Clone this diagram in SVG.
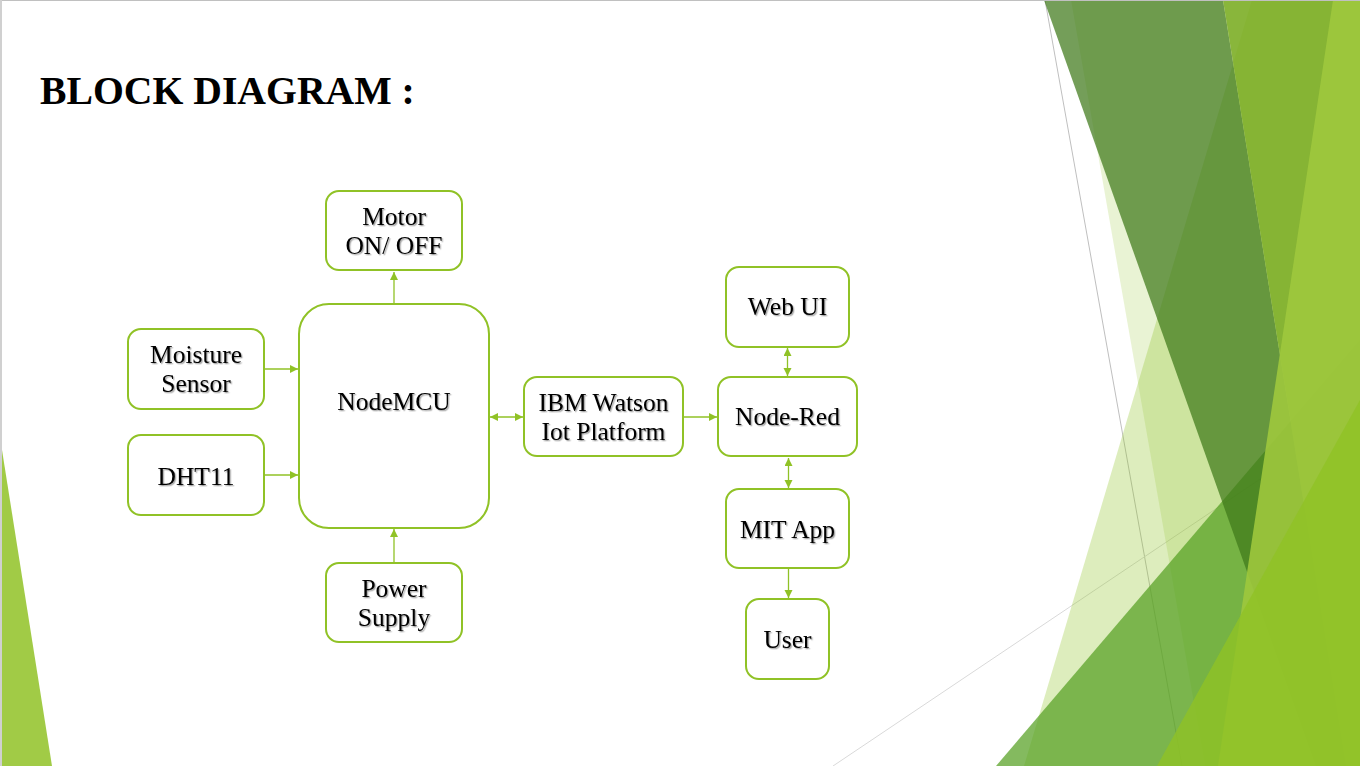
<svg xmlns="http://www.w3.org/2000/svg" width="1360" height="766" viewBox="0 0 1360 766">
<defs>
<style>
.box{fill:#ffffff;stroke:#90C226;stroke-width:2}
.lbl{font-family:"Liberation Serif","Times New Roman",serif;font-size:25.5px;fill:#000000;text-anchor:middle;filter:url(#sh)}
.conn{stroke:#90C226;stroke-width:1.3;fill:none}
.uni{marker-end:url(#ah)}
.bi{marker-start:url(#ah);marker-end:url(#ah)}
</style>
<marker id="ah" markerUnits="userSpaceOnUse" markerWidth="9" markerHeight="9" refX="8" refY="4" orient="auto-start-reverse"><path d="M0,0 L8,4 L0,8 Z" fill="#90C226"/></marker>
<filter id="sh" x="-10%" y="-30%" width="130%" height="160%"><feDropShadow dx="1.3" dy="1.3" stdDeviation="0.7" flood-color="#000000" flood-opacity="0.35"/></filter>
</defs>
<g id="background">
<rect x="0" y="0" width="1360" height="766" fill="#ffffff"/>
<line x1="1045" y1="0" x2="1182" y2="766" stroke="#bfbfbf" stroke-width="1"/>
<line x1="833" y1="766" x2="1360" y2="412" stroke="#d9d9d9" stroke-width="1"/>
<polygon points="1252,0 1360,0 1360,766 1024,766" fill="#90C226" fill-opacity="0.3"/>
<polygon points="1071,0 1360,0 1360,766 1205,766" fill="#90C226" fill-opacity="0.2"/>
<polygon points="996,766 1360,340 1360,766" fill="#54A021" fill-opacity="0.72"/>
<polygon points="1044,0 1223,0 1346,766 1316,766" fill="#3F7819" fill-opacity="0.72"/>
<polygon points="1223,0 1360,0 1360,766 1346,766" fill="#7BAC24" fill-opacity="0.87"/>
<polygon points="1333,0 1360,0 1360,766 1218,766" fill="#9EC83D" fill-opacity="0.9"/>
<polygon points="1157,766 1360,400 1360,766" fill="#90C226" fill-opacity="0.8"/>
<polygon points="2,450 52,766 2,766" fill="#90C226" fill-opacity="0.85"/>
<line x1="0" y1="0.5" x2="1360" y2="0.5" stroke="#c0c0c0" stroke-width="1"/>
<line x1="1" y1="0" x2="1" y2="766" stroke="#d0d0d0" stroke-width="2"/>
</g>
<g id="title">
<text x="40" y="104" font-family="'Liberation Serif','Times New Roman',serif" font-size="39.7px" font-weight="bold" fill="#000000">BLOCK DIAGRAM :</text>
</g>
<g id="connectors">
<line class="conn uni" x1="394" y1="303" x2="394" y2="272"/>
<line class="conn uni" x1="265" y1="369" x2="298" y2="369"/>
<line class="conn uni" x1="265" y1="475" x2="298" y2="475"/>
<line class="conn uni" x1="394" y1="562" x2="394" y2="529"/>
<line class="conn bi" x1="490" y1="417" x2="523" y2="417"/>
<line class="conn uni" x1="684" y1="417" x2="717" y2="417"/>
<line class="conn bi" x1="787.5" y1="348" x2="787.5" y2="376"/>
<line class="conn bi" x1="788.5" y1="458" x2="788.5" y2="488"/>
<line class="conn uni" x1="788.5" y1="569" x2="788.5" y2="598"/>
</g>
<g id="motor">
<rect class="box" x="326" y="191" width="136" height="79" rx="13"/>
<text class="lbl" x="394" y="225">Motor</text>
<text class="lbl" x="394" y="254">ON/ OFF</text>
</g>
<g id="moisture">
<rect class="box" x="128" y="329" width="136" height="80" rx="13"/>
<text class="lbl" x="196" y="363">Moisture</text>
<text class="lbl" x="196" y="392">Sensor</text>
</g>
<g id="dht11">
<rect class="box" x="128" y="435" width="136" height="80" rx="13"/>
<text class="lbl" x="196" y="485">DHT11</text>
</g>
<g id="nodemcu">
<rect class="box" x="299" y="304" width="190" height="224" rx="30"/>
<text class="lbl" x="394" y="410">NodeMCU</text>
</g>
<g id="power">
<rect class="box" x="326" y="563" width="136" height="79" rx="13"/>
<text class="lbl" x="394" y="597">Power</text>
<text class="lbl" x="394" y="626">Supply</text>
</g>
<g id="ibm">
<rect class="box" x="524" y="377" width="159" height="79" rx="13"/>
<text class="lbl" x="603.5" y="411">IBM Watson</text>
<text class="lbl" x="603.5" y="440">Iot Platform</text>
</g>
<g id="nodered">
<rect class="box" x="718" y="377" width="139" height="79" rx="13"/>
<text class="lbl" x="787.5" y="425">Node-Red</text>
</g>
<g id="webui">
<rect class="box" x="726" y="267" width="123" height="80" rx="13"/>
<text class="lbl" x="787.5" y="315">Web UI</text>
</g>
<g id="mitapp">
<rect class="box" x="726" y="489" width="123" height="79" rx="13"/>
<text class="lbl" x="787.5" y="538">MIT App</text>
</g>
<g id="user">
<rect class="box" x="746" y="599" width="83" height="80" rx="13"/>
<text class="lbl" x="787.5" y="648">User</text>
</g>
</svg>
